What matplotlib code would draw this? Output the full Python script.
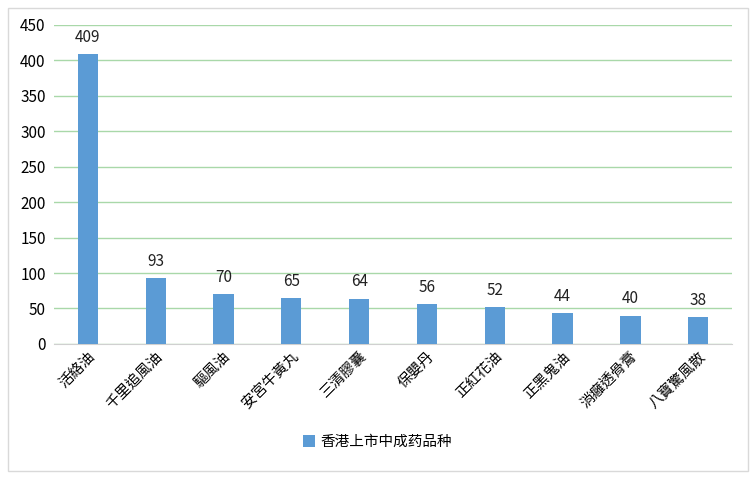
import matplotlib.pyplot as plt
from matplotlib.patches import Rectangle

plt.rcParams['font.family'] = ['Noto Sans CJK TC', 'DejaVu Sans']

categories = ['活絡油', '千里追風油', '驅風油', '安宮牛黃丸', '三清膠囊',
              '保嬰丹', '正紅花油', '正黑鬼油', '消癰透骨膏', '八寶驚風散']
counts = [409, 93, 70, 65, 64, 56, 52, 44, 40, 38]
series_name = '香港上市中成药品种'
bar_color = '#5B9BD5'

fig = plt.figure(figsize=(7.56, 4.79), dpi=100)
ax = fig.add_axes([0.0714, 0.282, 0.897, 0.666])

x = range(len(categories))
bars = ax.bar(x, counts, width=0.3, color=bar_color, label=series_name, zorder=3)
for xi, v in zip(x, counts):
    ax.annotate(str(v), (xi, v), xytext=(0, 12), textcoords='offset points',
                ha='center', va='center', fontsize=11, color='#222222')

ax.set_xlim(-0.5, len(categories) - 0.5)
ax.set_ylim(0, 450)
ax.set_yticks(range(0, 451, 50))
ax.tick_params(axis='y', length=0, labelsize=11, pad=6)
ax.tick_params(axis='x', length=0, pad=4)
ax.set_xticks(list(x))
ax.set_xticklabels(categories, rotation=45, ha='right', va='top',
                   rotation_mode='anchor', fontsize=10.5)
ax.grid(axis='y', color='#A9D8A9', linewidth=1, zorder=0)
for s in ['top', 'right', 'left']:
    ax.spines[s].set_visible(False)
ax.spines['bottom'].set_color('#D0D0D0')

fig.legend(handles=[bars], labels=[series_name], loc='center',
           bbox_to_anchor=(0.5, 0.077), frameon=False, fontsize=10.5,
           handlelength=0.8, handleheight=0.8, handletextpad=0.4)

fig.patches.append(Rectangle((0.011, 0.017), 0.979, 0.966, transform=fig.transFigure,
                             fill=False, edgecolor='#D9D9D9', linewidth=1))

fig.savefig('out.png', dpi=100)
